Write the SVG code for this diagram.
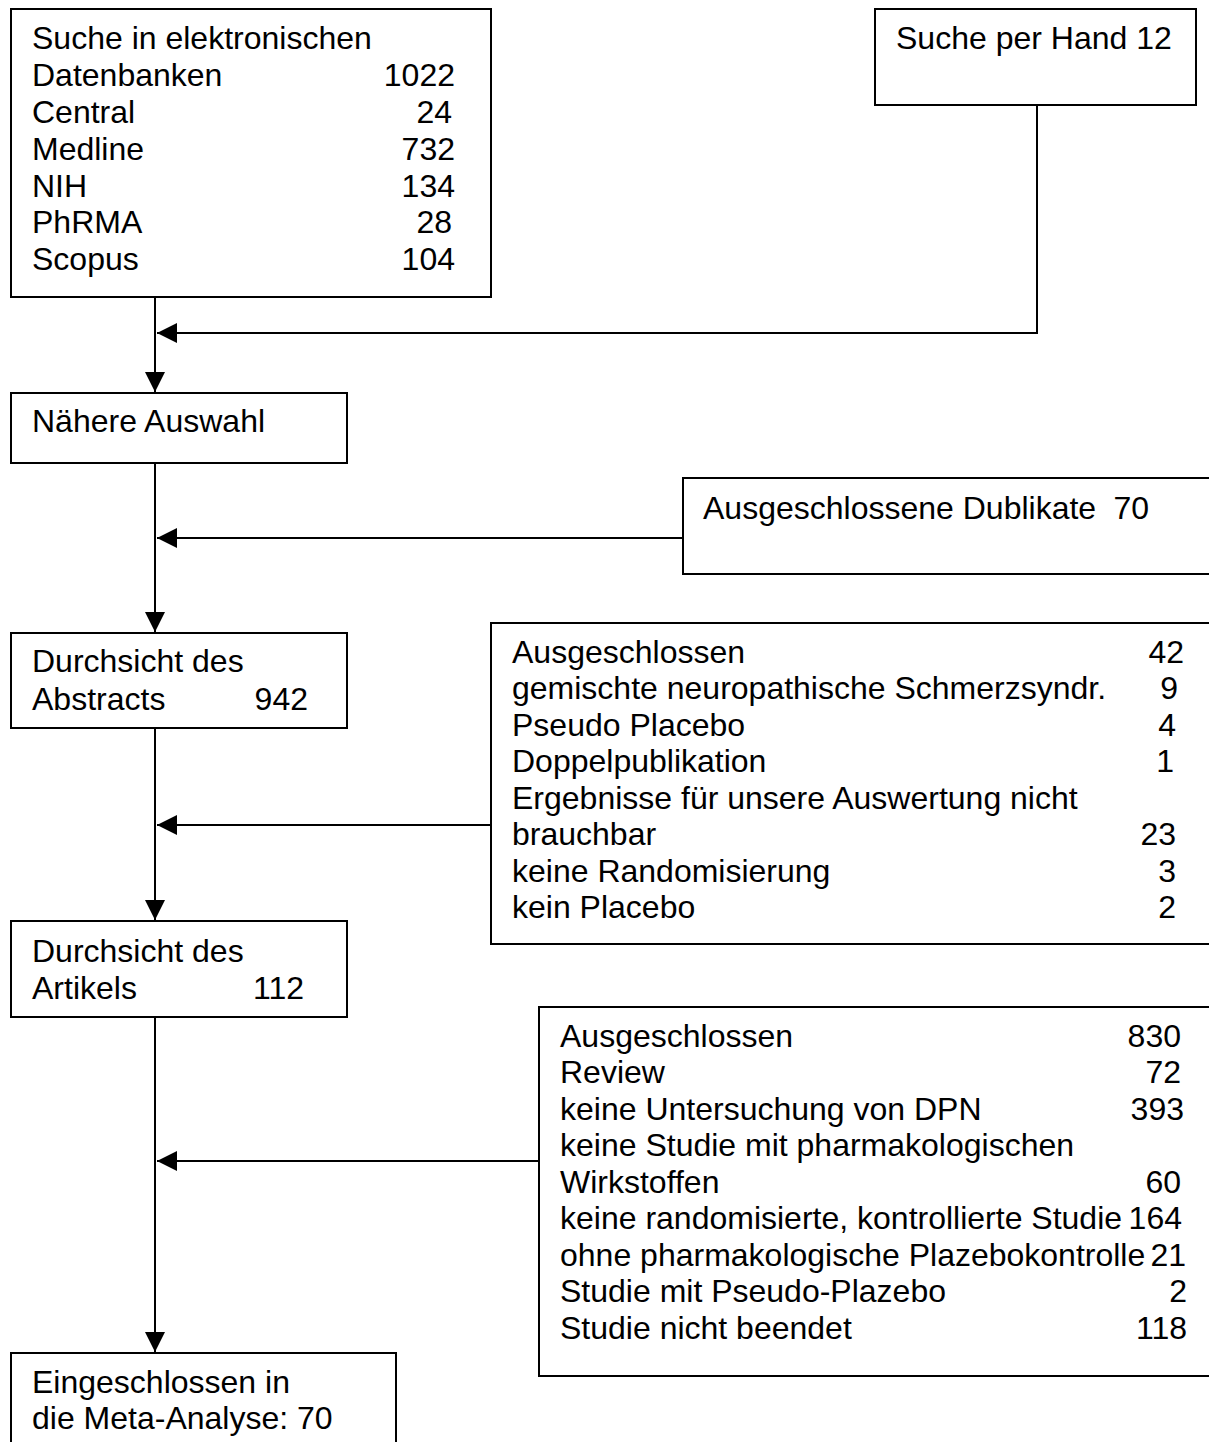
<svg xmlns="http://www.w3.org/2000/svg" width="1209" height="1442" viewBox="0 0 1209 1442">
<style>
.box{fill:#fff;stroke:#000;stroke-width:2}
.t{font-family:"Liberation Sans",Arial,sans-serif;font-size:32px;fill:#000}
.n{text-anchor:end}
.c{fill:none;stroke:#000;stroke-width:2}
</style>
<defs>
<marker id="ah" markerUnits="userSpaceOnUse" markerWidth="22" markerHeight="22" refX="20" refY="10" orient="auto">
<path d="M0,0 L20,10 L0,20 Z" fill="#000"/>
</marker>
</defs>
<rect width="1209" height="1442" fill="#fff"/>
<g id="connectors">
<path class="c" d="M155,297 V392" marker-end="url(#ah)"/>
<path class="c" d="M1037,105 V333 H157" marker-end="url(#ah)"/>
<path class="c" d="M155,463 V632" marker-end="url(#ah)"/>
<path class="c" d="M683,538 H157" marker-end="url(#ah)"/>
<path class="c" d="M155,728 V920" marker-end="url(#ah)"/>
<path class="c" d="M491,825 H157" marker-end="url(#ah)"/>
<path class="c" d="M155,1017 V1352" marker-end="url(#ah)"/>
<path class="c" d="M539,1161 H157" marker-end="url(#ah)"/>
</g>
<g id="search-electronic">
<rect class="box" x="11" y="9" width="480" height="288"/>
<text class="t" x="32" y="49">Suche in elektronischen</text>
<text class="t" x="32" y="86">Datenbanken</text><text class="t n" x="455" y="86">1022</text>
<text class="t" x="32" y="123">Central</text><text class="t n" x="452" y="123">24</text>
<text class="t" x="32" y="159.5">Medline</text><text class="t n" x="455" y="159.5">732</text>
<text class="t" x="32" y="196.5">NIH</text><text class="t n" x="455" y="196.5">134</text>
<text class="t" x="32" y="233">PhRMA</text><text class="t n" x="452" y="233">28</text>
<text class="t" x="32" y="269.5">Scopus</text><text class="t n" x="455" y="269.5">104</text>
</g>
<g id="search-hand">
<rect class="box" x="875" y="9" width="321" height="96"/>
<text class="t" x="896" y="49">Suche per Hand 12</text>
</g>
<g id="selection">
<rect class="box" x="11" y="393" width="336" height="70"/>
<text class="t" x="32" y="432">Nähere Auswahl</text>
</g>
<g id="duplicates">
<rect class="box" x="683" y="478" width="540" height="96"/>
<text class="t" x="703" y="518.5">Ausgeschlossene Dublikate</text><text class="t n" x="1149" y="518.5">70</text>
</g>
<g id="abstracts">
<rect class="box" x="11" y="633" width="336" height="95"/>
<text class="t" x="32" y="672">Durchsicht des</text>
<text class="t" x="32" y="710">Abstracts</text><text class="t n" x="308" y="710">942</text>
</g>
<g id="excluded-abstracts">
<rect class="box" x="491" y="623" width="732" height="321"/>
<text class="t" x="512" y="662.5">Ausgeschlossen</text><text class="t n" x="1184" y="662.5">42</text>
<text class="t" x="512" y="699">gemischte neuropathische Schmerzsyndr.</text><text class="t n" x="1178" y="699">9</text>
<text class="t" x="512" y="735.5">Pseudo Placebo</text><text class="t n" x="1176" y="735.5">4</text>
<text class="t" x="512" y="772">Doppelpublikation</text><text class="t n" x="1174" y="772">1</text>
<text class="t" x="512" y="808.5">Ergebnisse für unsere Auswertung nicht</text>
<text class="t" x="512" y="845">brauchbar</text><text class="t n" x="1176" y="845">23</text>
<text class="t" x="512" y="881.5">keine Randomisierung</text><text class="t n" x="1176" y="881.5">3</text>
<text class="t" x="512" y="918">kein Placebo</text><text class="t n" x="1176" y="918">2</text>
</g>
<g id="articles">
<rect class="box" x="11" y="921" width="336" height="96"/>
<text class="t" x="32" y="962">Durchsicht des</text>
<text class="t" x="32" y="998.5">Artikels</text><text class="t n" x="304" y="998.5">112</text>
</g>
<g id="excluded-articles">
<rect class="box" x="539" y="1007" width="684" height="369"/>
<text class="t" x="560" y="1046.5">Ausgeschlossen</text><text class="t n" x="1181" y="1046.5">830</text>
<text class="t" x="560" y="1083">Review</text><text class="t n" x="1181" y="1083">72</text>
<text class="t" x="560" y="1119.5">keine Untersuchung von DPN</text><text class="t n" x="1184" y="1119.5">393</text>
<text class="t" x="560" y="1156">keine Studie mit pharmakologischen</text>
<text class="t" x="560" y="1192.5">Wirkstoffen</text><text class="t n" x="1181" y="1192.5">60</text>
<text class="t" x="560" y="1229">keine randomisierte, kontrollierte Studie</text><text class="t n" x="1182" y="1229">164</text>
<text class="t" x="560" y="1265.5">ohne pharmakologische Plazebokontrolle</text><text class="t n" x="1186" y="1265.5">21</text>
<text class="t" x="560" y="1302">Studie mit Pseudo-Plazebo</text><text class="t n" x="1187" y="1302">2</text>
<text class="t" x="560" y="1338.5">Studie nicht beendet</text><text class="t n" x="1187" y="1338.5">118</text>
</g>
<g id="included">
<rect class="box" x="11" y="1353" width="385" height="110"/>
<text class="t" x="32" y="1393">Eingeschlossen in</text>
<text class="t" x="32" y="1429">die Meta-Analyse: 70</text>
</g>
</svg>
